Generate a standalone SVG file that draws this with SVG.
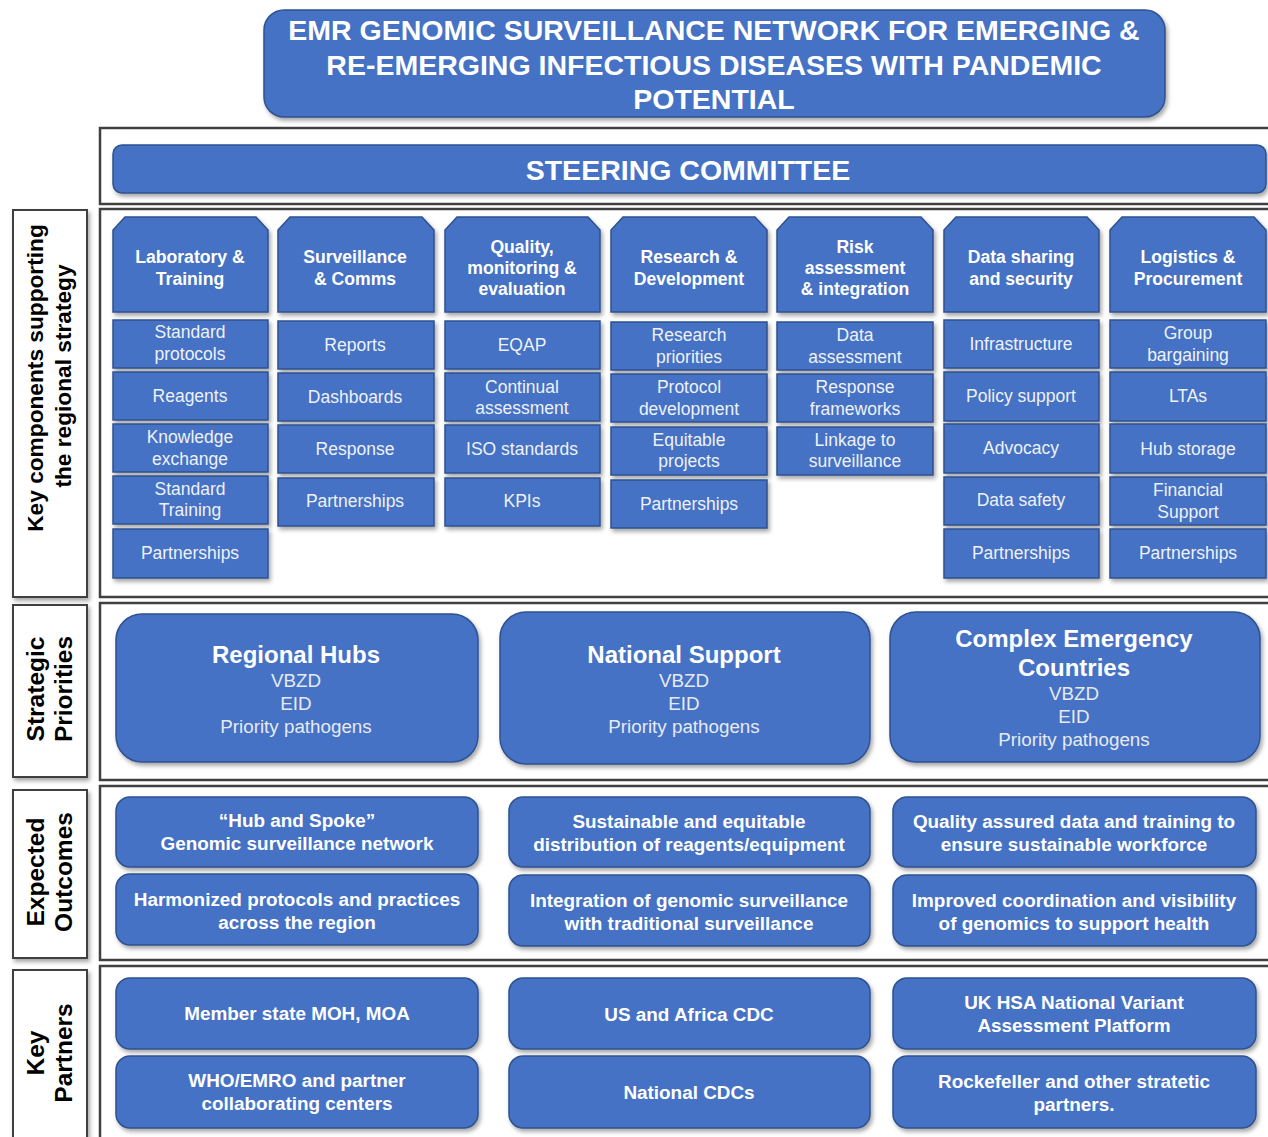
<svg xmlns="http://www.w3.org/2000/svg" width="1268" height="1137" viewBox="0 0 1268 1137">
<defs>
<filter id="sh" x="-10%" y="-10%" width="120%" height="130%">
<feDropShadow dx="2" dy="3" stdDeviation="2" flood-color="#000" flood-opacity="0.35"/>
</filter>
<style>
.panel{fill:#fff;stroke:#404040;stroke-width:2.5}
.lbl{fill:#fff;stroke:#404040;stroke-width:2}
.blue{fill:#4472C4;stroke:#2F528F;stroke-width:1.5}
.t{font-family:"Liberation Sans",Arial,sans-serif;text-anchor:middle;dominant-baseline:central}
.title{fill:#fff;font-weight:bold;font-size:28.5px}
.hd{fill:#fff;font-weight:bold;font-size:17.6px}
.it{fill:#eef1f7;font-size:17.5px}
.sp{fill:#fff;font-weight:bold;font-size:24px}
.sub{fill:#e6eaf2;font-size:18.8px}
.oc{fill:#fff;font-weight:bold;font-size:18.9px}
.side{fill:#000;font-weight:bold;font-size:24.5px}
.side2{fill:#000;font-weight:bold;font-size:22.7px}
</style>
</defs>
<rect width="1268" height="1137" fill="#fff"/>

<!-- panels -->
<g id="panels">
<rect class="panel" x="100" y="128" width="1190" height="76"/>
<rect class="panel" x="100" y="209" width="1190" height="388"/>
<rect class="panel" x="100" y="603" width="1190" height="177"/>
<rect class="panel" x="100" y="786" width="1190" height="174"/>
<rect class="panel" x="100" y="966" width="1190" height="190"/>
</g>

<!-- side labels -->
<g id="label-key-components">
<rect class="lbl" x="13" y="210" width="74" height="387" filter="url(#sh)"/>
<text class="t side2" transform="translate(35,378) rotate(-90)">Key components supporting</text>
<text class="t side2" transform="translate(63,376) rotate(-90)">the regional strategy</text>
</g>
<g id="label-strategic">
<rect class="lbl" x="13" y="605" width="74" height="172" filter="url(#sh)"/>
<text class="t side" transform="translate(35,689) rotate(-90)">Strategic</text>
<text class="t side" transform="translate(63,689) rotate(-90)">Priorities</text>
</g>
<g id="label-outcomes">
<rect class="lbl" x="13" y="790" width="74" height="168" filter="url(#sh)"/>
<text class="t side" transform="translate(35,872) rotate(-90)">Expected</text>
<text class="t side" transform="translate(63,872) rotate(-90)">Outcomes</text>
</g>
<g id="label-partners">
<rect class="lbl" x="13" y="970" width="74" height="180" filter="url(#sh)"/>
<text class="t side" transform="translate(35,1053) rotate(-90)">Key</text>
<text class="t side" transform="translate(63,1053) rotate(-90)">Partners</text>
</g>

<!-- title -->
<g id="title">
<rect class="blue" x="264" y="10" width="901" height="107" rx="20" filter="url(#sh)"/>
<text class="t title" x="714" y="30">EMR GENOMIC SURVEILLANCE NETWORK FOR EMERGING &amp;</text>
<text class="t title" x="714" y="65">RE-EMERGING INFECTIOUS DISEASES WITH PANDEMIC</text>
<text class="t title" x="714" y="99">POTENTIAL</text>
</g>

<g id="steering">
<rect class="blue" x="113" y="145" width="1153" height="48" rx="9" filter="url(#sh)"/>
<text class="t title" x="688" y="170">STEERING COMMITTEE</text>
</g>

<!-- column 1 -->
<g id="col1">
<path class="blue" filter="url(#sh)" d="M125,217 H256 L268,230 V312 H113 V230 Z"/>
<text class="t hd" x="190" y="257">Laboratory &amp;</text>
<text class="t hd" x="190" y="279">Training</text>
<rect class="blue" filter="url(#sh)" x="113" y="320" width="155" height="48"/>
<text class="t it" x="190" y="332">Standard</text><text class="t it" x="190" y="354">protocols</text>
<rect class="blue" filter="url(#sh)" x="113" y="372" width="155" height="48"/>
<text class="t it" x="190" y="396">Reagents</text>
<rect class="blue" filter="url(#sh)" x="113" y="424" width="155" height="48"/>
<text class="t it" x="190" y="437">Knowledge</text><text class="t it" x="190" y="459">exchange</text>
<rect class="blue" filter="url(#sh)" x="113" y="476" width="155" height="48"/>
<text class="t it" x="190" y="489">Standard</text><text class="t it" x="190" y="510">Training</text>
<rect class="blue" filter="url(#sh)" x="113" y="529" width="155" height="49"/>
<text class="t it" x="190" y="553">Partnerships</text>
</g>

<!-- column 2 -->
<g id="col2">
<path class="blue" filter="url(#sh)" d="M290,217 H422 L434,230 V312 H278 V230 Z"/>
<text class="t hd" x="355" y="257">Surveillance</text>
<text class="t hd" x="355" y="279">&amp; Comms</text>
<rect class="blue" filter="url(#sh)" x="278" y="321" width="156" height="48"/>
<text class="t it" x="355" y="345">Reports</text>
<rect class="blue" filter="url(#sh)" x="278" y="373" width="156" height="48"/>
<text class="t it" x="355" y="397">Dashboards</text>
<rect class="blue" filter="url(#sh)" x="278" y="425" width="156" height="48"/>
<text class="t it" x="355" y="449">Response</text>
<rect class="blue" filter="url(#sh)" x="278" y="478" width="156" height="48"/>
<text class="t it" x="355" y="501">Partnerships</text>
</g>

<!-- column 3 -->
<g id="col3">
<path class="blue" filter="url(#sh)" d="M457,217 H588 L600,230 V312 H445 V230 Z"/>
<text class="t hd" x="522" y="247">Quality,</text>
<text class="t hd" x="522" y="268">monitoring &amp;</text>
<text class="t hd" x="522" y="289">evaluation</text>
<rect class="blue" filter="url(#sh)" x="445" y="321" width="155" height="48"/>
<text class="t it" x="522" y="345">EQAP</text>
<rect class="blue" filter="url(#sh)" x="445" y="373" width="155" height="48"/>
<text class="t it" x="522" y="387">Continual</text><text class="t it" x="522" y="408">assessment</text>
<rect class="blue" filter="url(#sh)" x="445" y="425" width="155" height="48"/>
<text class="t it" x="522" y="449">ISO standards</text>
<rect class="blue" filter="url(#sh)" x="445" y="478" width="155" height="48"/>
<text class="t it" x="522" y="501">KPIs</text>
</g>

<!-- column 4 -->
<g id="col4">
<path class="blue" filter="url(#sh)" d="M623,217 H755 L767,230 V312 H611 V230 Z"/>
<text class="t hd" x="689" y="257">Research &amp;</text>
<text class="t hd" x="689" y="279">Development</text>
<rect class="blue" filter="url(#sh)" x="611" y="322" width="156" height="48"/>
<text class="t it" x="689" y="335">Research</text><text class="t it" x="689" y="357">priorities</text>
<rect class="blue" filter="url(#sh)" x="611" y="374" width="156" height="48"/>
<text class="t it" x="689" y="387">Protocol</text><text class="t it" x="689" y="409">development</text>
<rect class="blue" filter="url(#sh)" x="611" y="427" width="156" height="48"/>
<text class="t it" x="689" y="440">Equitable</text><text class="t it" x="689" y="461">projects</text>
<rect class="blue" filter="url(#sh)" x="611" y="480" width="156" height="48"/>
<text class="t it" x="689" y="504">Partnerships</text>
</g>

<!-- column 5 -->
<g id="col5">
<path class="blue" filter="url(#sh)" d="M789,217 H921 L933,230 V312 H777 V230 Z"/>
<text class="t hd" x="855" y="247">Risk</text>
<text class="t hd" x="855" y="268">assessment</text>
<text class="t hd" x="855" y="289">&amp; integration</text>
<rect class="blue" filter="url(#sh)" x="777" y="322" width="156" height="48"/>
<text class="t it" x="855" y="335">Data</text><text class="t it" x="855" y="357">assessment</text>
<rect class="blue" filter="url(#sh)" x="777" y="374" width="156" height="48"/>
<text class="t it" x="855" y="387">Response</text><text class="t it" x="855" y="409">frameworks</text>
<rect class="blue" filter="url(#sh)" x="777" y="427" width="156" height="48"/>
<text class="t it" x="855" y="440">Linkage to</text><text class="t it" x="855" y="461">surveillance</text>
</g>

<!-- column 6 -->
<g id="col6">
<path class="blue" filter="url(#sh)" d="M956,217 H1087 L1099,230 V312 H944 V230 Z"/>
<text class="t hd" x="1021" y="257">Data sharing</text>
<text class="t hd" x="1021" y="279">and security</text>
<rect class="blue" filter="url(#sh)" x="944" y="320" width="155" height="48"/>
<text class="t it" x="1021" y="344">Infrastructure</text>
<rect class="blue" filter="url(#sh)" x="944" y="372" width="155" height="49"/>
<text class="t it" x="1021" y="396">Policy support</text>
<rect class="blue" filter="url(#sh)" x="944" y="424" width="155" height="49"/>
<text class="t it" x="1021" y="448">Advocacy</text>
<rect class="blue" filter="url(#sh)" x="944" y="477" width="155" height="48"/>
<text class="t it" x="1021" y="500">Data safety</text>
<rect class="blue" filter="url(#sh)" x="944" y="529" width="155" height="49"/>
<text class="t it" x="1021" y="553">Partnerships</text>
</g>

<!-- column 7 -->
<g id="col7">
<path class="blue" filter="url(#sh)" d="M1122,217 H1254 L1266,230 V312 H1110 V230 Z"/>
<text class="t hd" x="1188" y="257">Logistics &amp;</text>
<text class="t hd" x="1188" y="279">Procurement</text>
<rect class="blue" filter="url(#sh)" x="1110" y="320" width="156" height="48"/>
<text class="t it" x="1188" y="333">Group</text><text class="t it" x="1188" y="355">bargaining</text>
<rect class="blue" filter="url(#sh)" x="1110" y="372" width="156" height="49"/>
<text class="t it" x="1188" y="396">LTAs</text>
<rect class="blue" filter="url(#sh)" x="1110" y="424" width="156" height="49"/>
<text class="t it" x="1188" y="449">Hub storage</text>
<rect class="blue" filter="url(#sh)" x="1110" y="477" width="156" height="48"/>
<text class="t it" x="1188" y="490">Financial</text><text class="t it" x="1188" y="512">Support</text>
<rect class="blue" filter="url(#sh)" x="1110" y="529" width="156" height="49"/>
<text class="t it" x="1188" y="553">Partnerships</text>
</g>

<!-- strategic priorities -->
<g id="sp-regional">
<rect class="blue" filter="url(#sh)" x="116" y="614" width="362" height="148" rx="26"/>
<text class="t sp" x="296" y="654">Regional Hubs</text>
<text class="t sub" x="296" y="680">VBZD</text>
<text class="t sub" x="296" y="703">EID</text>
<text class="t sub" x="296" y="726">Priority pathogens</text>
</g>
<g id="sp-national">
<rect class="blue" filter="url(#sh)" x="500" y="612" width="370" height="152" rx="26"/>
<text class="t sp" x="684" y="654">National Support</text>
<text class="t sub" x="684" y="680">VBZD</text>
<text class="t sub" x="684" y="703">EID</text>
<text class="t sub" x="684" y="726">Priority pathogens</text>
</g>
<g id="sp-complex">
<rect class="blue" filter="url(#sh)" x="890" y="612" width="370" height="150" rx="26"/>
<text class="t sp" x="1074" y="638">Complex Emergency</text>
<text class="t sp" x="1074" y="667">Countries</text>
<text class="t sub" x="1074" y="693">VBZD</text>
<text class="t sub" x="1074" y="716">EID</text>
<text class="t sub" x="1074" y="739">Priority pathogens</text>
</g>

<!-- expected outcomes -->
<g id="oc-hub">
<rect class="blue" filter="url(#sh)" x="116" y="797" width="362" height="70" rx="14"/>
<text class="t oc" x="297" y="820">“Hub and Spoke”</text>
<text class="t oc" x="297" y="843">Genomic surveillance network</text>
</g>
<g id="oc-harmonized">
<rect class="blue" filter="url(#sh)" x="116" y="874" width="362" height="71" rx="14"/>
<text class="t oc" x="297" y="899">Harmonized protocols and practices</text>
<text class="t oc" x="297" y="922">across the region</text>
</g>
<g id="oc-sustainable">
<rect class="blue" filter="url(#sh)" x="509" y="797" width="361" height="70" rx="14"/>
<text class="t oc" x="689" y="821">Sustainable and equitable</text>
<text class="t oc" x="689" y="844">distribution of reagents/equipment</text>
</g>
<g id="oc-integration">
<rect class="blue" filter="url(#sh)" x="509" y="875" width="361" height="71" rx="14"/>
<text class="t oc" x="689" y="900">Integration of genomic surveillance</text>
<text class="t oc" x="689" y="923">with traditional surveillance</text>
</g>
<g id="oc-quality">
<rect class="blue" filter="url(#sh)" x="893" y="797" width="363" height="70" rx="14"/>
<text class="t oc" x="1074" y="821">Quality assured data and training to</text>
<text class="t oc" x="1074" y="844">ensure sustainable workforce</text>
</g>
<g id="oc-coordination">
<rect class="blue" filter="url(#sh)" x="893" y="875" width="363" height="71" rx="14"/>
<text class="t oc" x="1074" y="900">Improved coordination and visibility</text>
<text class="t oc" x="1074" y="923">of genomics to support health</text>
</g>

<!-- key partners -->
<g id="kp-moh">
<rect class="blue" filter="url(#sh)" x="116" y="978" width="362" height="71" rx="14"/>
<text class="t oc" x="297" y="1013">Member state MOH, MOA</text>
</g>
<g id="kp-who">
<rect class="blue" filter="url(#sh)" x="116" y="1056" width="362" height="72" rx="14"/>
<text class="t oc" x="297" y="1080">WHO/EMRO and partner</text>
<text class="t oc" x="297" y="1103">collaborating centers</text>
</g>
<g id="kp-cdc">
<rect class="blue" filter="url(#sh)" x="509" y="978" width="361" height="71" rx="14"/>
<text class="t oc" x="689" y="1014">US and Africa CDC</text>
</g>
<g id="kp-national">
<rect class="blue" filter="url(#sh)" x="509" y="1056" width="361" height="72" rx="14"/>
<text class="t oc" x="689" y="1092">National CDCs</text>
</g>
<g id="kp-ukhsa">
<rect class="blue" filter="url(#sh)" x="893" y="978" width="363" height="71" rx="14"/>
<text class="t oc" x="1074" y="1002">UK HSA National Variant</text>
<text class="t oc" x="1074" y="1025">Assessment Platform</text>
</g>
<g id="kp-rockefeller">
<rect class="blue" filter="url(#sh)" x="893" y="1056" width="363" height="72" rx="14"/>
<text class="t oc" x="1074" y="1081">Rockefeller and other stratetic</text>
<text class="t oc" x="1074" y="1104">partners.</text>
</g>

<g id="connectors"/>
</svg>
